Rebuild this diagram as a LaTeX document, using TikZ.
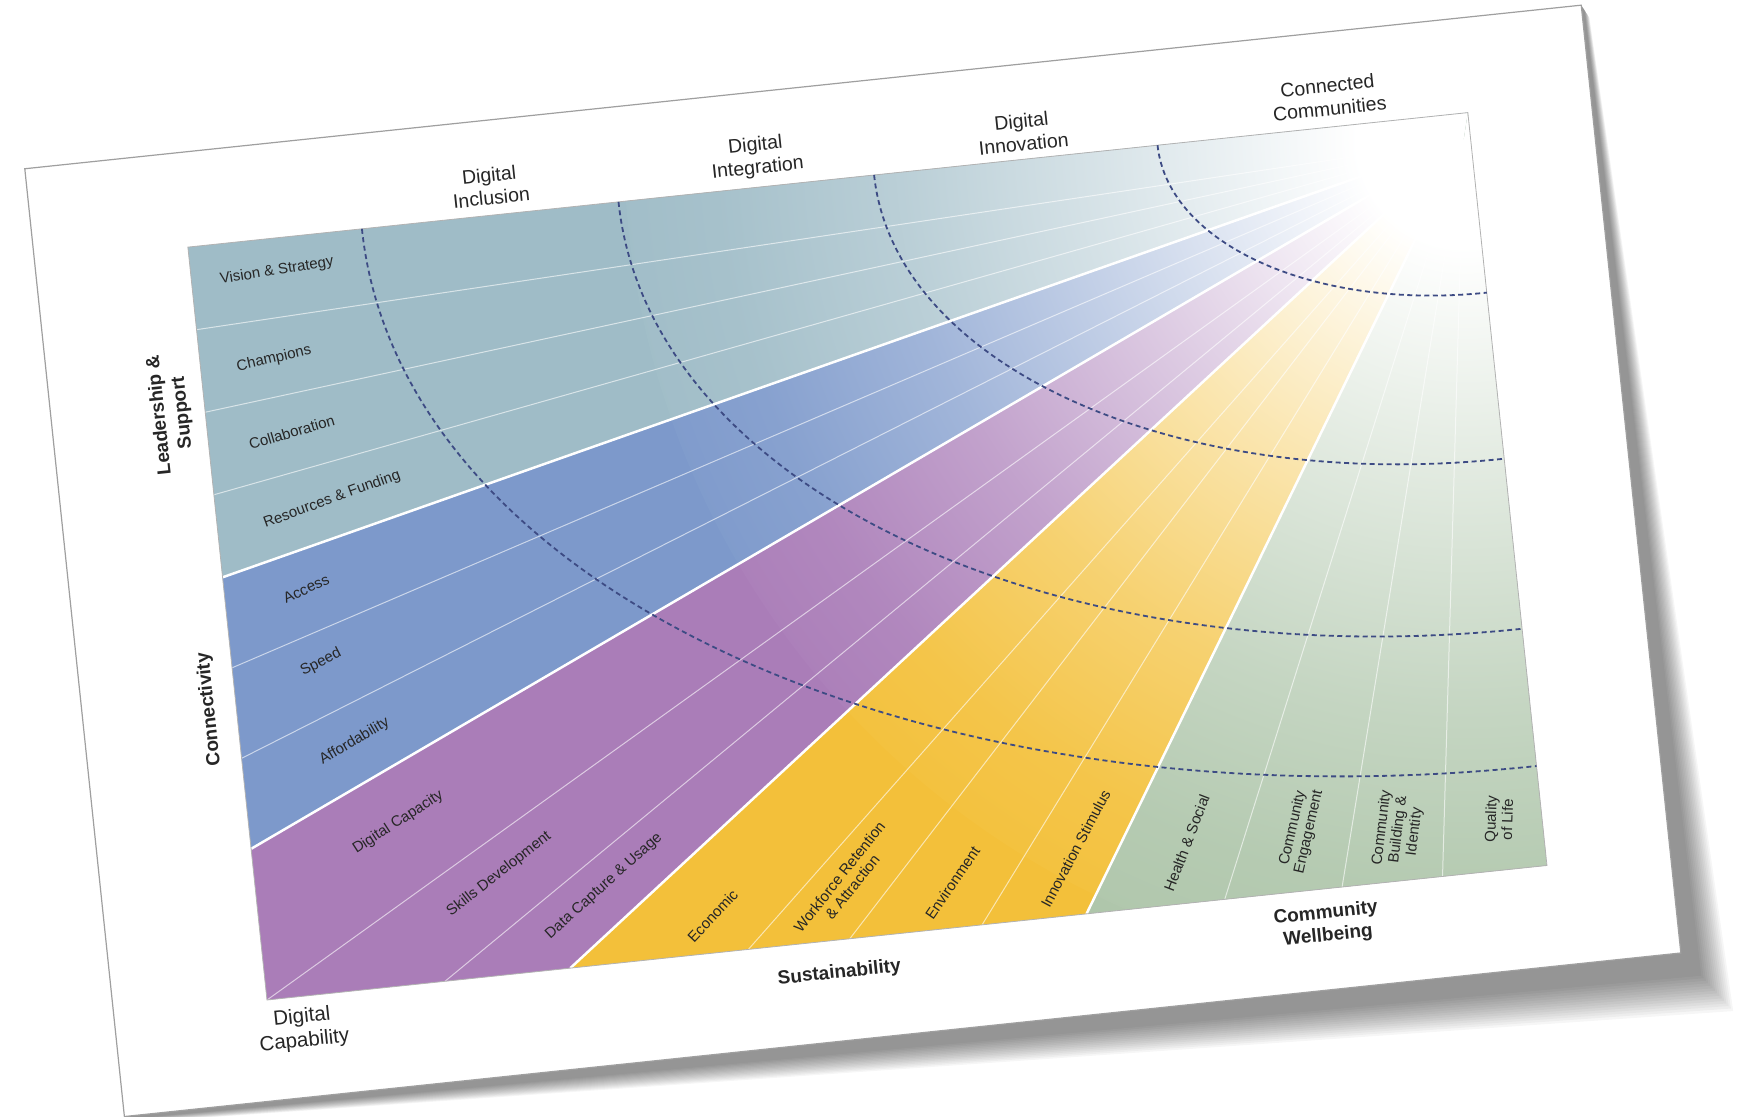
\documentclass[tikz,border=0pt]{standalone}
\usepackage{fontspec}
\setmainfont{Liberation Sans}
\definecolor{leadblue}{HTML}{9FBCC7}
\definecolor{connblue}{HTML}{7D99CB}
\definecolor{capviolet}{HTML}{AA7DB8}
\definecolor{susyellow}{HTML}{F3C03A}
\definecolor{wellgreen}{HTML}{AFC6AB}
\definecolor{arcnavy}{HTML}{3D4B84}
\definecolor{labelgrey}{HTML}{262626}
\colorlet{bandcol}{leadblue}
% white near the apex, full colour further out
\pgfdeclareradialshading[bandcol]{fanfade}{\pgfpoint{0bp}{0bp}}{%
    color(0bp)=(white); color(3bp)=(white); color(10bp)=(bandcol!40!white);
    color(16bp)=(bandcol!72!white); color(21bp)=(bandcol!92!white);
    color(25bp)=(bandcol); color(50bp)=(bandcol)}

\begin{document}
\begin{tikzpicture}[
        x=1pt, y=1pt,
        header/.style={align=center, inner sep=0pt, text=labelgrey, font=\fontsize{19.5}{23}\selectfont},
        axis/.style={align=center, inner sep=0pt, text=labelgrey, font=\fontsize{19}{23}\selectfont\bfseries},
        item/.style={align=center, inner sep=0pt, text=labelgrey, font=\fontsize{15}{16.5}\selectfont},
        divider/.style={white, line width=2.5pt},
        subdivider/.style={white, opacity=0.6, line width=1pt},
        stage/.style={arcnavy, line width=1.8pt, dash pattern=on 5pt off 3.5pt}
    ]
    \useasboundingbox (0,0) rectangle (1747,1116);

    \begin{scope}[shift={(267,116)}, rotate=6, transform shape]

    % Shadow of the sheet
    \foreach \s in {0.45,0.5,...,1.2}
        \fill[black, opacity=0.035]
            (-154,-101) -- (-154+5*\s,-101-6*\s) -- (1411+40*\s,-101-55*\s)
            -- (1411+6*\s,852-12*\s) -- (1411,852) -- cycle;

    % Sheet
    \draw[fill=white, draw=gray!75, line width=1.2pt] (-154,-101) rectangle (1411,852);

    % Apex of the fan
    \coordinate (apex) at (1280,730);

    % Leadership & Support band
    \begin{scope}
        \clip (0,757) -- (1287,757) -- (apex) -- (0,425) -- cycle;
        \colorlet{bandcol}{leadblue}
        \fill[bandcol] (0,0) rectangle (1287,757);
        \shade[shading=fanfade] (apex) circle (840);
    \end{scope}

    % Connectivity band
    \begin{scope}
        \clip (0,425) -- (apex) -- (0,152) -- cycle;
        \colorlet{bandcol}{connblue}
        \fill[bandcol] (0,0) rectangle (1287,757);
        \shade[shading=fanfade] (apex) circle (840);
    \end{scope}

    % Digital Capability band
    \begin{scope}
        \clip (0,152) -- (apex) -- (305,0) -- (0,0) -- cycle;
        \colorlet{bandcol}{capviolet}
        \fill[bandcol] (0,0) rectangle (1287,757);
        \shade[shading=fanfade] (apex) circle (840);
    \end{scope}

    % Sustainability band
    \begin{scope}
        \clip (305,0) -- (apex) -- (824,0) -- cycle;
        \colorlet{bandcol}{susyellow}
        \fill[bandcol] (0,0) rectangle (1287,757);
        \shade[shading=fanfade] (apex) circle (840);
    \end{scope}

    % Community Wellbeing band
    \begin{scope}
        \clip (824,0) -- (apex) -- (1287,757) -- (1287,0) -- cycle;
        \colorlet{bandcol}{wellgreen}
        \fill[bandcol] (0,0) rectangle (1287,757);
        \shade[shading=fanfade] (apex) circle (840);
    \end{scope}

    % Thin lines between the items
    \foreach \v in {674,591,508,334,243,0}
        \draw[subdivider] (0,\v) -- (apex);
    \foreach \u in {179,484,586,719,963,1081,1182}
        \draw[subdivider] (\u,0) -- (apex);

    % White lines between the bands
    \foreach \p in {(0,425),(0,152),(305,0),(824,0)}
        \draw[divider] \p -- (apex);

    % Frame of the chart
    \draw[gray!60, line width=0.8pt] (0,0) rectangle (1287,757);

    % Stages (dashed quarter ellipses)
    \foreach \a/\b in {312/181, 597/348, 854/519, 1112/657}
        \draw[stage] (1287-\a,757) arc[start angle=180, end angle=270, x radius=\a, y radius=\b];

    % Stage headers
    \node[header] (inclusion) at (307,786) {Digital\\Inclusion};
    \node[header] (integration) at (575,787) {Digital\\Integration};
    \node[header] (innovation) at (842,784) {Digital\\Innovation};
    \node[header] (connected) at (1150,787) {Connected\\Communities};

    % Band titles
    \node[axis, rotate=90] (leadership) at (-34,593) {Leadership \&\\Support};
    \node[axis, rotate=90] (connectivity) at (-27,295) {Connectivity};
    \node[header, font=\fontsize{20.5}{24}\selectfont] (capability) at (33,-33) {Digital\\Capability};
    \node[axis] (sustainability) at (572,-33) {Sustainability};
    \node[axis] (wellbeing) at (1062,-36) {Community\\Wellbeing};

    % Items of each band
    \node[item, rotate=3] (vision) at (86,724) {Vision \& Strategy};
    \node[item, rotate=7] (champions) at (74,637) {Champions};
    \node[item, rotate=10.5] (collaboration) at (84,562) {Collaboration};
    \node[item, rotate=14] (resources) at (117,491) {Resources \& Funding};
    \node[item, rotate=18] (access) at (82,405) {Access};
    \node[item, rotate=21] (speed) at (89,330) {Speed};
    \node[item, rotate=24.5] (affordability) at (114,248) {Affordability};
    \node[item, rotate=27] (capacity) at (149,163) {Digital Capacity};
    \node[item, rotate=32] (skills) at (244,101) {Skills Development};
    \node[item, rotate=36] (datacapture) at (347,78) {Data Capture \& Usage};
    \node[item, rotate=41] (economic) at (452,37) {Economic};
    \node[item, rotate=45.5] (workforce) at (588,57) {Workforce Retention\\\& Attraction};
    \node[item, rotate=49.5] (environment) at (694,45) {Environment};
    \node[item, rotate=56] (stimulus) at (820,66) {Innovation Stimulus};
    \node[item, rotate=63] (health) at (931,60) {Health \& Social};
    \node[item, rotate=71] (engagement) at (1046,61) {Community\\Engagement};
    \node[item, rotate=77] (building) at (1143,51) {Community\\Building \&\\Identity};
    \node[item, rotate=82] (quality) at (1244,51) {Quality\\of Life};

    \end{scope}
\end{tikzpicture}
\end{document}
